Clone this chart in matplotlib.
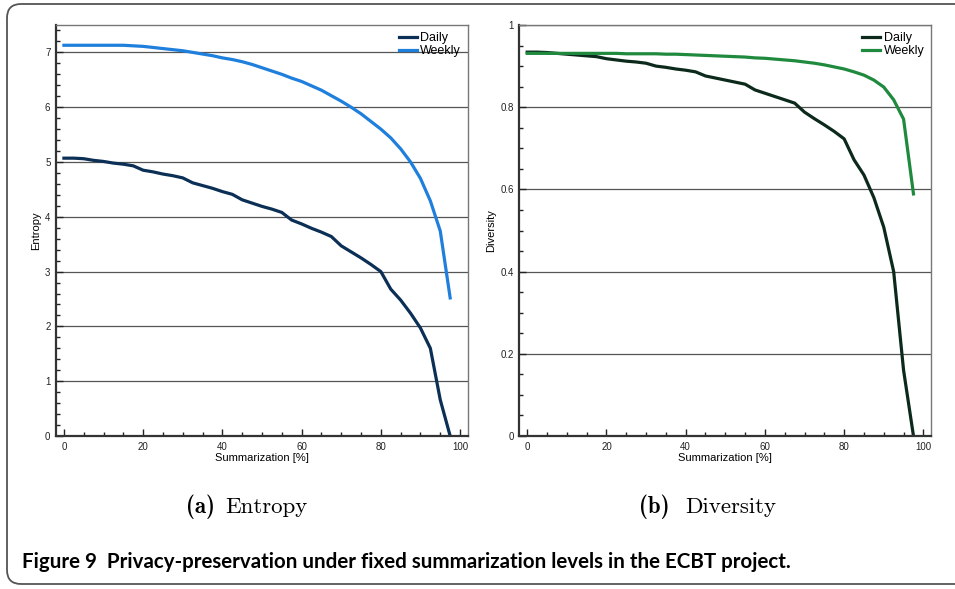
import matplotlib
matplotlib.use("Agg")
import matplotlib.pyplot as plt
from matplotlib.patches import FancyBboxPatch
from matplotlib.transforms import IdentityTransform
from matplotlib.ticker import MultipleLocator, FuncFormatter


# summarization levels [%]
summ = [0, 2.5, 5, 7.5, 10, 12.5, 15, 17.5, 20, 22.5, 25, 27.5, 30, 32.5, 35, 37.5,
        40, 42.5, 45, 47.5, 50, 52.5, 55, 57.5, 60, 62.5, 65, 67.5, 70, 72.5, 75,
        77.5, 80, 82.5, 85, 87.5, 90, 92.5, 95, 97.5]

entropy_daily = [5.07, 5.07, 5.06, 5.03, 5.01, 4.98, 4.96, 4.93, 4.85, 4.82, 4.78,
                 4.75, 4.71, 4.62, 4.57, 4.52, 4.46, 4.41, 4.31, 4.25, 4.19, 4.14,
                 4.08, 3.94, 3.87, 3.79, 3.72, 3.64, 3.47, 3.36, 3.25, 3.13, 3.00,
                 2.68, 2.48, 2.24, 1.97, 1.60, 0.66, 0.0]

entropy_weekly = [7.13, 7.13, 7.13, 7.13, 7.13, 7.13, 7.13, 7.12, 7.11, 7.09, 7.07,
                  7.05, 7.03, 7.00, 6.97, 6.94, 6.90, 6.87, 6.83, 6.78, 6.72, 6.66,
                  6.60, 6.53, 6.47, 6.39, 6.31, 6.21, 6.11, 6.00, 5.88, 5.74, 5.60,
                  5.44, 5.24, 5.00, 4.70, 4.29, 3.74, 2.52]

diversity_daily = [0.934, 0.934, 0.933, 0.931, 0.929, 0.927, 0.925, 0.923, 0.918,
                   0.915, 0.912, 0.910, 0.907, 0.900, 0.897, 0.893, 0.890, 0.886,
                   0.876, 0.871, 0.866, 0.861, 0.856, 0.842, 0.834, 0.826, 0.818,
                   0.810, 0.788, 0.772, 0.757, 0.741, 0.723, 0.672, 0.635, 0.580,
                   0.508, 0.400, 0.160, 0.0]

diversity_weekly = [0.931, 0.931, 0.931, 0.931, 0.931, 0.931, 0.931, 0.931, 0.931,
                    0.931, 0.930, 0.930, 0.930, 0.930, 0.929, 0.929, 0.928, 0.927,
                    0.926, 0.925, 0.924, 0.923, 0.922, 0.920, 0.919, 0.917, 0.915,
                    0.913, 0.910, 0.907, 0.903, 0.898, 0.893, 0.886, 0.878, 0.866,
                    0.849, 0.818, 0.771, 0.589]

panels = [
    ("Entropy", entropy_daily, entropy_weekly, "#0b2f55", "#1f7fdc", 7.5, 1, 0.2),
    ("Diversity", diversity_daily, diversity_weekly, "#0c2a1c", "#1f8a3e", 1.0, 0.2, 0.05),
]

fig = plt.figure(figsize=(9.55, 5.89), dpi=100)
plt.rcParams['font.family'] = ['Liberation Sans', 'DejaVu Sans']

lefts = [56 / 955, 519.3 / 955]
for (name, daily, weekly, c_d, c_w, ytop, ymaj, ymin), left in zip(panels, lefts):
    ax = fig.add_axes([left, 1 - 436 / 589, 412 / 955, 411 / 589])
    ax.plot(summ, daily, color=c_d, lw=2.3, label="Daily", solid_joinstyle="round")
    ax.plot(summ, weekly, color=c_w, lw=2.3, label="Weekly", solid_joinstyle="round")
    ax.set_xlim(-2, 102)
    ax.set_ylim(0, ytop)
    ax.xaxis.set_major_locator(MultipleLocator(20))
    ax.xaxis.set_minor_locator(MultipleLocator(5))
    ax.yaxis.set_major_locator(MultipleLocator(ymaj))
    ax.yaxis.set_minor_locator(MultipleLocator(ymin))
    ax.yaxis.set_major_formatter(FuncFormatter(lambda v, p: f"{v:g}"))
    ax.grid(axis="y", which="major", color="#555555", lw=0.9)
    ax.tick_params(which="both", direction="in", labelsize=7, colors="#222222",
                   top=False, right=False, pad=4)
    ax.tick_params(which="major", length=5, width=1)
    ax.tick_params(which="minor", length=3, width=1)
    for s in ["left", "bottom"]:
        ax.spines[s].set_color("#333333")
        ax.spines[s].set_linewidth(1.6)
    for s in ["top", "right"]:
        ax.spines[s].set_color("#777777")
        ax.spines[s].set_linewidth(1.0)
    ax.set_xlabel("Summarization [%]", fontsize=8, labelpad=1)
    ax.set_ylabel(name, fontsize=8, labelpad=3)
    ax.legend(loc="upper right", frameon=False, fontsize=9, handlelength=1.4,
              handletextpad=0.3, labelspacing=0.1, borderaxespad=0.15)

# subfigure captions
fig.text(215 / 955, 1 - 507 / 589, "(a)", family="cmb10", fontsize=16.5,
         ha="right", va="center")
fig.text(225 / 955, 1 - 507 / 589, "Entropy", family="cmr10", fontsize=16.5,
         ha="left", va="center")
fig.text(670 / 955, 1 - 507 / 589, "(b)", family="cmb10", fontsize=16.5,
         ha="right", va="center")
fig.text(685 / 955, 1 - 507 / 589, "Diversity", family="cmr10", fontsize=16.5,
         ha="left", va="center")

fig.text(22 / 955, 1 - 562 / 589,
         "Figure 9  Privacy-preservation under fixed summarization levels in the ECBT project.",
         family="Lato", weight="bold", fontsize=14.8, ha="left", va="center")

# rounded frame around the figure
frame = FancyBboxPatch((7, 5), 1100, 580, boxstyle="round,pad=0,rounding_size=14",
                       transform=IdentityTransform(), fill=False,
                       edgecolor="#555555", lw=1.3)
fig.add_artist(frame)

fig.savefig("out.png", dpi=100)
